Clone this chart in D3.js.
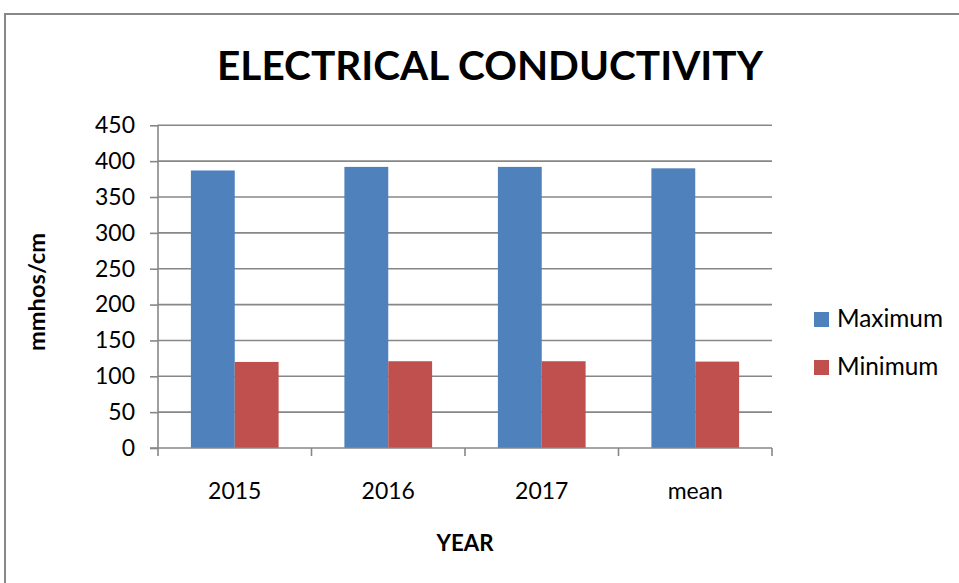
<!DOCTYPE html>
<html>
<head>
<meta charset="utf-8">
<script src="https://cdn.jsdelivr.net/npm/d3@7"></script>
<style>
  html, body { margin: 0; padding: 0; background: #fff; }
  svg { display: block; font-family: Lato, "Open Sans", sans-serif; }
</style>
</head>
<body>
<svg id="chart" width="959" height="583"></svg>
<script>
// Electrical conductivity by year (mmhos/cm)
const categories = ["2015", "2016", "2017", "mean"];
const seriesNames = ["Maximum", "Minimum"];
const maximumValues = [387, 392, 392, 390];
const minimumValues = [120, 121, 121, 120.5];
const yTicks = [0, 50, 100, 150, 200, 250, 300, 350, 400, 450];
const colors = ["#4f81bd", "#c0504d"];

const svg = d3.select("#chart");
const W = 959, H = 583;
const FONT = "Lato, 'Open Sans', sans-serif";

// size a text node so that its advance width equals `width`
function fitFont(sel, width) {
  sel.attr("font-size", 100);
  const len = sel.node().getComputedTextLength();
  const size = 100 * width / len;
  sel.attr("font-size", size);
  return size;
}

// outer chart frame
svg.append("rect")
  .attr("x", 5).attr("y", 14)
  .attr("width", W + 10).attr("height", H + 10)
  .attr("fill", "#fff").attr("stroke", "#888").attr("stroke-width", 2);

const plot = { left: 158, right: 772, top: 125.3, bottom: 448 };

const x0 = d3.scaleBand()
  .domain(categories)
  .range([plot.left, plot.right])
  .paddingInner(0).paddingOuter(0);

// 150% gap between clusters: bar width = band / (2 + 1.5)
const barW = x0.bandwidth() / 3.5;
const x1 = d3.scaleBand()
  .domain(seriesNames)
  .range([0, barW * 2]);

const y = d3.scaleLinear().domain([0, 450]).range([plot.bottom, plot.top]);

// gridlines
svg.append("g")
  .selectAll("line")
  .data(yTicks.filter(d => d > 0))
  .join("line")
  .attr("x1", plot.left).attr("x2", plot.right)
  .attr("y1", d => y(d)).attr("y2", d => y(d))
  .attr("stroke", "#878787").attr("stroke-width", 1.6);

// bars
const rows = categories.map((c, i) => ({ cat: c, vals: [maximumValues[i], minimumValues[i]] }));
const groups = svg.append("g")
  .selectAll("g")
  .data(rows)
  .join("g")
  .attr("transform", d => `translate(${x0(d.cat) + (x0.bandwidth() - barW * 2) / 2},0)`);

groups.selectAll("rect")
  .data(d => d.vals.map((v, j) => ({ key: seriesNames[j], v, j })))
  .join("rect")
  .attr("x", d => x1(d.key))
  .attr("width", barW)
  .attr("y", d => y(d.v))
  .attr("height", d => y(0) - y(d.v))
  .attr("fill", d => colors[d.j]);

// y axis
const yAxis = d3.axisLeft(y).tickValues(yTicks).tickSize(8).tickPadding(15);
const gy = svg.append("g")
  .attr("transform", `translate(${plot.left},0)`)
  .call(yAxis);
gy.select(".domain").attr("stroke", "#878787").attr("stroke-width", 1.6)
  .attr("d", `M-8,${plot.bottom}H0V${plot.top - 0.5}`);
gy.selectAll(".tick line").attr("stroke", "#878787").attr("stroke-width", 1.6);
gy.selectAll(".tick text").attr("fill", "#000").attr("font-family", FONT);
const tickSize = fitFont(gy.selectAll(".tick text").filter(d => d === 450), 40);
gy.selectAll(".tick text").attr("font-size", tickSize);

// x axis
const xAxis = d3.axisBottom(x0).tickSize(0).tickPadding(0);
const gx = svg.append("g")
  .attr("transform", `translate(0,${plot.bottom})`)
  .call(xAxis);
gx.select(".domain").attr("stroke", "#878787").attr("stroke-width", 1.6)
  .attr("d", `M${plot.left},0H${plot.right}`);
gx.selectAll(".tick text")
  .attr("fill", "#000")
  .attr("dy", 0).attr("y", 51)
  .attr("font-family", FONT)
  .attr("font-size", tickSize);

// category boundary tick marks
svg.append("g")
  .selectAll("line")
  .data(categories.concat(["__end"]))
  .join("line")
  .attr("x1", (d, i) => i < categories.length ? x0(d) : plot.right)
  .attr("x2", (d, i) => i < categories.length ? x0(d) : plot.right)
  .attr("y1", plot.bottom).attr("y2", plot.bottom + 8)
  .attr("stroke", "#878787").attr("stroke-width", 1.6);

// title
const title = svg.append("text")
  .attr("x", 490).attr("y", 80)
  .attr("text-anchor", "middle")
  .attr("font-weight", "bold")
  .text("ELECTRICAL CONDUCTIVITY");
fitFont(title, 546);

// axis titles
const yTitle = svg.append("text")
  .attr("transform", `translate(45,${292}) rotate(-90)`)
  .attr("text-anchor", "middle")
  .attr("font-weight", "bold")
  .text("mmhos/cm");
fitFont(yTitle, 118);

const xTitle = svg.append("text")
  .attr("x", 465).attr("y", 551)
  .attr("text-anchor", "middle")
  .attr("font-weight", "bold")
  .text("YEAR");
fitFont(xTitle, 57);

// legend
const legend = svg.append("g")
  .selectAll("g")
  .data(seriesNames)
  .join("g")
  .attr("transform", (d, i) => `translate(814,${312 + i * 48})`);
legend.append("rect")
  .attr("width", 15).attr("height", 15)
  .attr("fill", (d, i) => colors[i]);
const legText = legend.append("text")
  .attr("x", 23).attr("y", 15)
  .text(d => d);
const legSize = fitFont(legText.filter(d => d === "Maximum"), 106);
legText.attr("font-size", legSize);
</script>
</body>
</html>
